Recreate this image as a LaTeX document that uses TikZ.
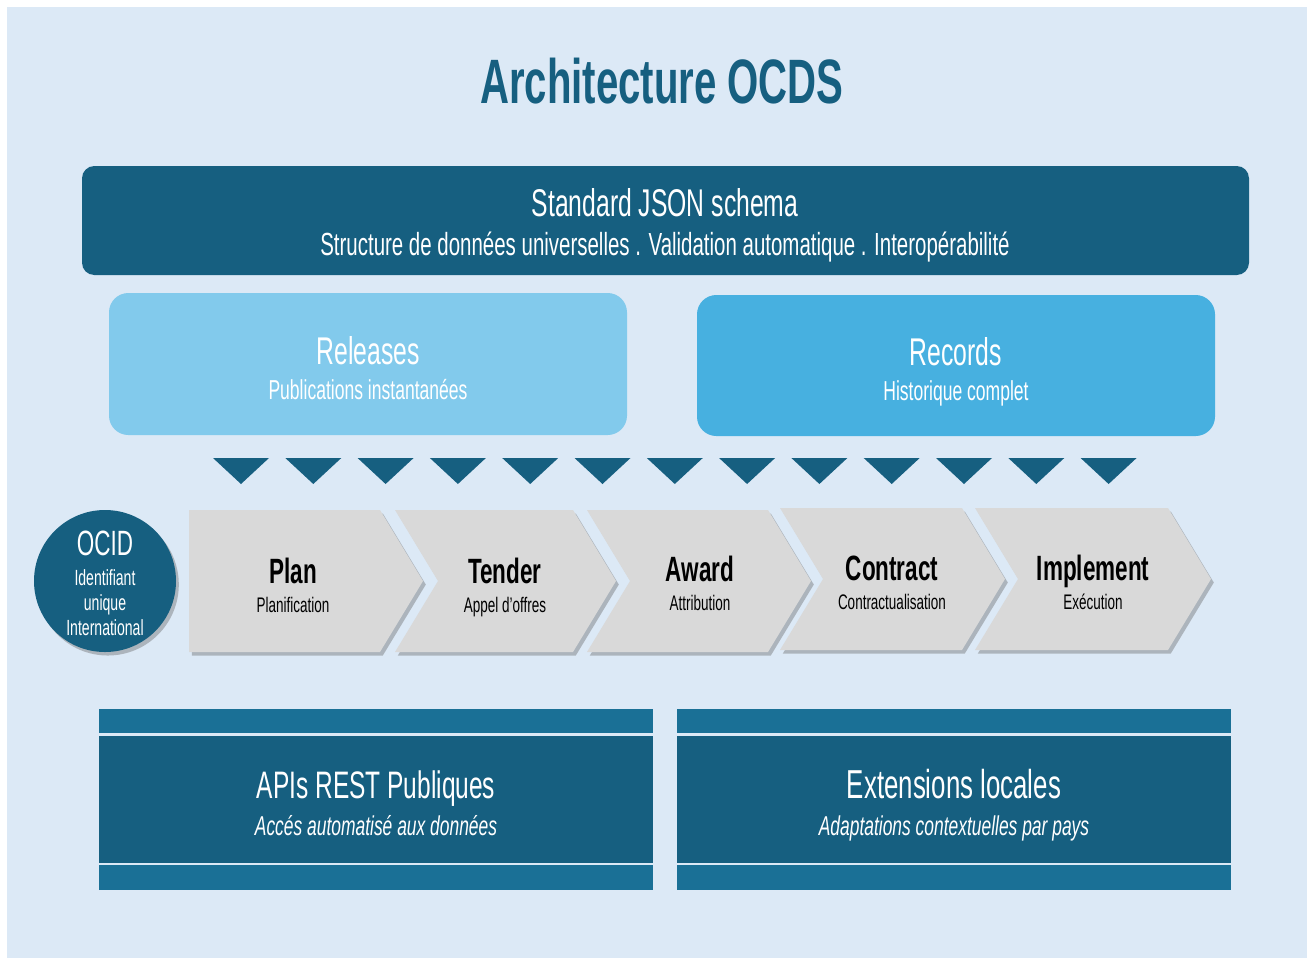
\documentclass[tikz,border=0pt]{standalone}
\usepackage{fontspec}
\setmainfont{Liberation Sans}[FakeStretch=0.64]
\usepackage{tikz}
\usetikzlibrary{shadows}
\definecolor{ocdsdark}{HTML}{165F80}
\definecolor{ocdsstrip}{HTML}{1A7096}
\definecolor{ocdsback}{HTML}{DCE9F6}
\definecolor{relblue}{HTML}{82CAEC}
\definecolor{recblue}{HTML}{47B0E0}
\definecolor{chevgray}{HTML}{D9D9D9}
\newcommand{\fsz}[1]{\fontsize{#1}{1.2\dimexpr#1pt\relax}\selectfont}

\begin{document}
\begin{tikzpicture}[x=0.02cm, y=-0.02cm,
	lbl/.style={anchor=base, inner sep=0pt, text=white},
	chev/.style={fill=chevgray, drop shadow={shadow xshift=1.6pt, shadow yshift=-2pt, fill=black!60, opacity=0.4}},
	arrowtri/.style={fill=ocdsdark}]

	\useasboundingbox (0,0) rectangle (1312,958);
	\fill[white] (0,0) rectangle (1312,958);
	\fill[ocdsback] (7,7) rectangle (1307,958);

	\node[lbl, text=ocdsdark, font=\fsz{35.7}\bfseries] (title) at (662,103) {Architecture OCDS};

	% schema
	\fill[ocdsdark, rounded corners=7pt] (82,166) rectangle (1249,275);
	\node[lbl, font=\fsz{22}] (json) at (665,216) {Standard JSON schema};
	\node[lbl, font=\fsz{18.2}] (jsonsub) at (665,255) {Structure de données universelles . Validation automatique . Interopérabilité};

	% releases and records
	\fill[relblue, rounded corners=11pt] (109,293) rectangle (627,435);
	\fill[recblue, rounded corners=11pt] (697,295) rectangle (1215,436);
	\node[lbl, font=\fsz{22}] (rel) at (368,364) {Releases};
	\node[lbl, font=\fsz{15.6}] (relsub) at (368,399) {Publications instantanées};
	\node[lbl, font=\fsz{22}] (rec) at (956,365) {Records};
	\node[lbl, font=\fsz{15.6}] (recsub) at (956,400) {Historique complet};

	\foreach \i in {0,...,12}
		\fill[arrowtri] ({213+72.3*\i},458) -- ++(56,0) -- ++(-28,26) -- cycle;

	% ocid
	\fill[ocdsdark, drop shadow={shadow xshift=1.6pt, shadow yshift=-2pt, fill=black!60, opacity=0.4}] (105,581) circle (71);
	\node[lbl, font=\fsz{20}] (ocid) at (105,555) {OCID};
	\node[lbl, font=\fsz{12.5}] (ocid1) at (105,585) {Identifiant};
	\node[lbl, font=\fsz{12.5}] (ocid2) at (105,610) {unique};
	\node[lbl, font=\fsz{12.5}] (ocid3) at (105,635) {International};

	% process chevrons
	\foreach \l/\n/\r/\t/\tx/\ty/\ttl/\sub/\nm in {
		189/0/380/510/293/583/Plan/Planification/plan,
		395/43/573/510/505/583/Tender/Appel d’offres/tender,
		587/43/768/510/700/581/Award/Attribution/award,
		780/43/962/508/892/580/Contract/Contractualisation/contract,
		975/43/1168/508/1093/580/Implement/Exécution/implement}
	{
		\fill[chev] (\l,\t) -- (\r,\t) -- (\r+43,\t+71) -- (\r,\t+142) -- (\l,\t+142) -- (\l+\n,\t+71) -- cycle;
		\node[lbl, text=black, font=\fsz{20}\bfseries] (\nm) at (\tx,\ty) {\ttl};
		\node[lbl, text=black, font=\fsz{12}] (\nm sub) at (\tx,\ty+29) {\sub};
	}

	% apis
	\fill[ocdsstrip] (99,709) rectangle (653,733);
	\fill[ocdsdark] (99,736) rectangle (653,863);
	\fill[ocdsstrip] (99,865) rectangle (653,890);
	\node[lbl, font=\fsz{21.8}] (api) at (376,798) {APIs REST Publiques};
	\node[lbl, font=\fsz{15.5}\itshape] (apisub) at (376,835) {Accés automatisé aux données};

	% extensions
	\fill[ocdsstrip] (677,709) rectangle (1231,733);
	\fill[ocdsdark] (677,736) rectangle (1231,863);
	\fill[ocdsstrip] (677,865) rectangle (1231,890);
	\node[lbl, font=\fsz{23}] (ext) at (954,798) {Extensions locales};
	\node[lbl, font=\fsz{15.5}\itshape] (extsub) at (954,835) {Adaptations contextuelles par pays};

\end{tikzpicture}
\end{document}
